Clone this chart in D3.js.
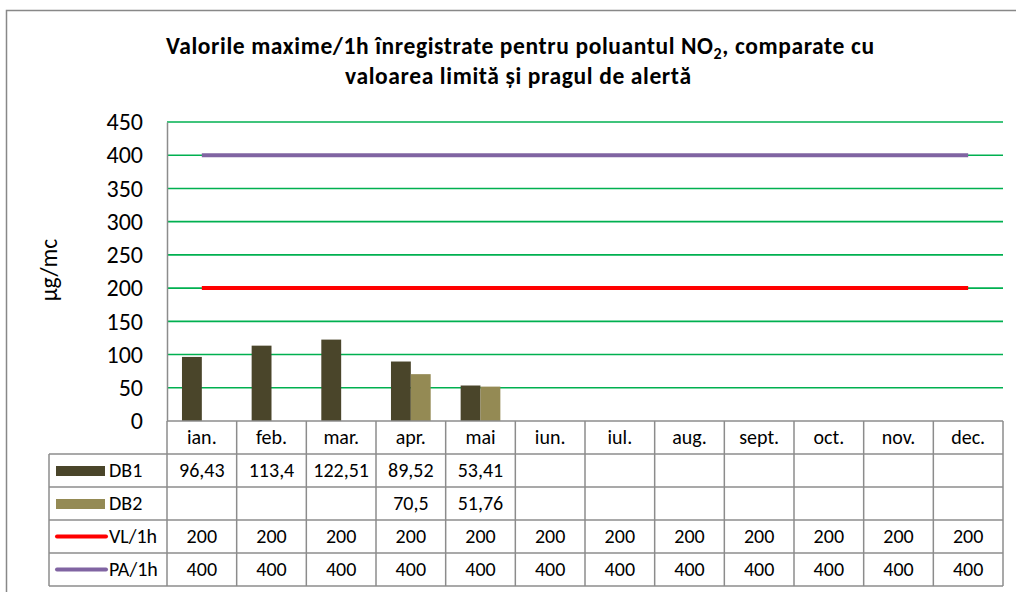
<!DOCTYPE html>
<html><head><meta charset="utf-8">
<script src="https://cdn.jsdelivr.net/npm/d3@7"></script>
<style>
html,body{margin:0;padding:0;background:#fff;}
svg{display:block;font-family:Carlito,Lato,"Open Sans",sans-serif;}
</style></head>
<body>
<svg id="c" width="1016" height="592"></svg>
<script>
const months = ["ian.","feb.","mar.","apr.","mai","iun.","iul.","aug.","sept.","oct.","nov.","dec."];
const db1 = [96.43,113.4,122.51,89.52,53.41,null,null,null,null,null,null,null];
const db2 = [null,null,null,70.5,51.76,null,null,null,null,null,null,null];
const vl = [200,200,200,200,200,200,200,200,200,200,200,200];
const pa = [400,400,400,400,400,400,400,400,400,400,400,400];
const yTicks = [0,50,100,150,200,250,300,350,400,450];
const seriesNames = ["DB1","DB2","VL/1h","PA/1h"];

const colors = {DB1:"#4A452A", DB2:"#948A54", "VL/1h":"#FF0000", "PA/1h":"#8064A2"};
const fmt = v => v==null ? "" : String(v).replace(".", ",");

const svg = d3.select("#c");
const L=167, R=1003, T=122, B=421, rowH=33, legL=49;
const gray="#8C8C8C";
const FS=20;

// frame
svg.append("path").attr("d","M6.5,600 L6.5,10.5 L1020,10.5").attr("fill","none").attr("stroke","#888").attr("stroke-width",1.5);

// title
const t1 = svg.append("text").attr("text-anchor","middle").attr("font-weight","bold").attr("font-size",23.5).attr("fill","#000")
  .attr("x",520).attr("y",54).attr("textLength",708).attr("lengthAdjust","spacing");
t1.append("tspan").text("Valorile maxime/1h înregistrate pentru poluantul NO");
t1.append("tspan").attr("font-size",16).attr("dy",5).text("2");
t1.append("tspan").attr("dy",-5).text(", comparate cu");
svg.append("text").attr("text-anchor","middle").attr("font-weight","bold").attr("font-size",23.5).attr("fill","#000")
  .attr("x",518).attr("y",84).attr("textLength",346).attr("lengthAdjust","spacing")
  .text("valoarea limită și pragul de alertă");

const x0 = d3.scaleBand().domain(months).range([L,R]).paddingInner(0.43).paddingOuter(0.215);
const x1 = d3.scaleBand().domain(["DB1","DB2"]).range([0,x0.bandwidth()]);
const y = d3.scaleLinear().domain([0,450]).range([B,T]);

// gridlines
svg.append("g").selectAll("line").data(yTicks.filter(d=>d>0)).join("line")
  .attr("x1",L).attr("x2",R).attr("y1",d=>y(d)).attr("y2",d=>y(d))
  .attr("stroke","#00B050").attr("stroke-width",1.6);

// y axis
const yAxis = d3.axisLeft(y).tickValues(yTicks).tickSize(0).tickPadding(24);
const ga = svg.append("g").attr("transform",`translate(${L},0)`).call(yAxis);
ga.select(".domain").attr("stroke",gray).attr("stroke-width",1.5);
ga.selectAll("text").attr("font-size",24).attr("fill","#000").attr("font-family","Carlito,Lato,sans-serif");

svg.append("text").attr("transform","translate(57,270) rotate(-90)").attr("text-anchor","middle")
  .attr("font-size",23.5).attr("fill","#000").text("µg/mc");

// bars
const barData = [];
months.forEach((m,i)=>{
  if(db1[i]!=null) barData.push({m,s:"DB1",v:db1[i]});
  if(db2[i]!=null) barData.push({m,s:"DB2",v:db2[i]});
});
svg.append("g").selectAll("rect").data(barData).join("rect")
  .attr("x",d=>x0(d.m)+x1(d.s)).attr("width",x1.bandwidth())
  .attr("y",d=>y(d.v)).attr("height",d=>B-y(d.v))
  .attr("fill",d=>colors[d.s]);

// lines
const cx = m => x0(m)+x0.bandwidth()/2;
const line = d3.line().x((d,i)=>cx(months[i])).y(d=>y(d));
svg.append("path").datum(vl).attr("d",line).attr("fill","none").attr("stroke",colors["VL/1h"]).attr("stroke-width",4);
svg.append("path").datum(pa).attr("d",line).attr("fill","none").attr("stroke",colors["PA/1h"]).attr("stroke-width",4);

// x axis baseline
svg.append("line").attr("x1",L).attr("x2",R).attr("y1",B).attr("y2",B).attr("stroke",gray).attr("stroke-width",1.5);

// data table
const tb = svg.append("g");
const step = x0.step();
const colX = i => L + i*step;
const tableBottom = B + rowH*5;
for(let r=1;r<=5;r++){
  tb.append("line").attr("x1", legL).attr("x2",R).attr("y1",B+rowH*r).attr("y2",B+rowH*r).attr("stroke",gray).attr("stroke-width",1.5);
}
for(let i=0;i<=12;i++){
  tb.append("line").attr("x1",colX(i)).attr("x2",colX(i)).attr("y1",B).attr("y2",tableBottom).attr("stroke",gray).attr("stroke-width",1.5);
}
tb.append("line").attr("x1",legL).attr("x2",legL).attr("y1",B+rowH).attr("y2",tableBottom).attr("stroke",gray).attr("stroke-width",1.5);

tb.selectAll("text.h").data(months).join("text").attr("class","h")
  .attr("x",m=>cx(m)).attr("y",B+23).attr("text-anchor","middle").attr("font-size",FS).attr("fill","#000").text(m=>m);

const rows = [db1,db2,vl,pa];
rows.forEach((arr,r)=>{
  const yy = B+rowH*(r+1);
  tb.append("g").selectAll("text").data(arr).join("text")
    .attr("x",(d,i)=>cx(months[i])).attr("y",yy+23).attr("text-anchor","middle")
    .attr("font-size",FS).attr("fill","#000").text(d=>fmt(d));
  const name = seriesNames[r];
  if(r<2){
    tb.append("rect").attr("x",56).attr("y",yy+12).attr("width",49).attr("height",10).attr("fill",colors[name]);
  } else {
    tb.append("line").attr("x1",57).attr("x2",106).attr("y1",yy+16.5).attr("y2",yy+16.5)
      .attr("stroke",colors[name]).attr("stroke-width",4).attr("stroke-linecap","round");
  }
  tb.append("text").attr("x",109).attr("y",yy+23).attr("font-size",FS).attr("fill","#000").text(name);
});
</script>
</body></html>
